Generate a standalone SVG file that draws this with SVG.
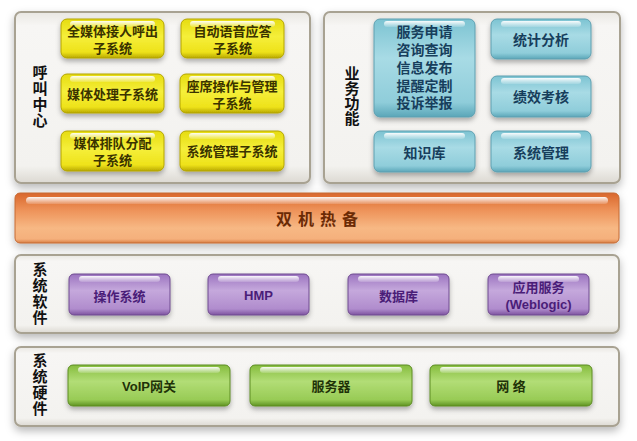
<svg xmlns="http://www.w3.org/2000/svg" width="637" height="441" viewBox="0 0 637 441">
<defs>
  <filter id="sh" x="-10%" y="-20%" width="120%" height="150%">
    <feDropShadow dx="0" dy="4" stdDeviation="4" flood-color="#000" flood-opacity="0.28"/>
  </filter>
  <filter id="bsh" x="-10%" y="-20%" width="120%" height="150%">
    <feDropShadow dx="0" dy="3" stdDeviation="2.5" flood-color="#000" flood-opacity="0.3"/>
  </filter>
  <linearGradient id="gPanel" x1="0" y1="0" x2="0" y2="1">
    <stop offset="0" stop-color="#e9e7e2"/>
    <stop offset="0.08" stop-color="#f7f6f4"/>
    <stop offset="0.9" stop-color="#f3f2ef"/>
    <stop offset="1" stop-color="#dcd9d2"/>
  </linearGradient>
  <linearGradient id="gY" x1="0" y1="0" x2="0" y2="1">
    <stop offset="0" stop-color="#e6dc10"/>
    <stop offset="0.45" stop-color="#f5ef3a"/>
    <stop offset="0.85" stop-color="#eee21a"/>
    <stop offset="1" stop-color="#b9a900"/>
  </linearGradient>
  <linearGradient id="gB" x1="0" y1="0" x2="0" y2="1">
    <stop offset="0" stop-color="#7cc3d2"/>
    <stop offset="0.4" stop-color="#a8dbe5"/>
    <stop offset="0.85" stop-color="#8fcdda"/>
    <stop offset="1" stop-color="#5aa6b8"/>
  </linearGradient>
  <linearGradient id="gO" x1="0" y1="0" x2="0" y2="1">
    <stop offset="0" stop-color="#d9672c"/>
    <stop offset="0.35" stop-color="#ee935a"/>
    <stop offset="0.7" stop-color="#f7b884"/>
    <stop offset="0.92" stop-color="#f5b07c"/>
    <stop offset="1" stop-color="#d97f45"/>
  </linearGradient>
  <linearGradient id="gP" x1="0" y1="0" x2="0" y2="1">
    <stop offset="0" stop-color="#9c74c0"/>
    <stop offset="0.4" stop-color="#c5a8dc"/>
    <stop offset="0.85" stop-color="#b08ccd"/>
    <stop offset="1" stop-color="#7d549f"/>
  </linearGradient>
  <linearGradient id="gG" x1="0" y1="0" x2="0" y2="1">
    <stop offset="0" stop-color="#86bd3e"/>
    <stop offset="0.4" stop-color="#b2dd76"/>
    <stop offset="0.85" stop-color="#98cb55"/>
    <stop offset="1" stop-color="#5f9322"/>
  </linearGradient>
  <linearGradient id="gHi" x1="0" y1="0" x2="0" y2="1">
    <stop offset="0" stop-color="#fff" stop-opacity="0.95"/>
    <stop offset="1" stop-color="#fff" stop-opacity="0.15"/>
  </linearGradient>
</defs>
<style>
  .panel { fill: url(#gPanel); stroke: #a8a292; stroke-width: 2; filter: url(#sh); }
  .y { fill: url(#gY); stroke: #b3a400; stroke-width: 1; filter: url(#bsh); }
  .b { fill: url(#gB); stroke: #5e9fb0; stroke-width: 1; filter: url(#bsh); }
  .o { fill: url(#gO); stroke: #c46a35; stroke-width: 1; filter: url(#sh); }
  .p { fill: url(#gP); stroke: #6f4a90; stroke-width: 1; filter: url(#bsh); }
  .g { fill: url(#gG); stroke: #5c8c22; stroke-width: 1; filter: url(#bsh); }
  .hi { fill: url(#gHi); }
  text { font-family: "Liberation Sans", "Noto Sans CJK SC", sans-serif; font-weight: bold; text-anchor: middle; dominant-baseline: central; }
  .lbl { font-size: 15px; fill: #111; writing-mode: vertical-rl; letter-spacing: 1px; }
  .ty { font-size: 13px; fill: #3a3300; }
  .tb { font-size: 14px; fill: #173e5c; }
  .tp { font-size: 13px; fill: #4a1d78; }
  .tg { font-size: 13px; fill: #1f3208; }
  .to { font-size: 16px; fill: #6b2a05; letter-spacing: 6px; }
</style>

<g id="panel-callcenter">
  <rect class="panel" x="15" y="12" width="295" height="171" rx="6"/>
  <text class="lbl" x="39" y="97">呼叫中心</text>
</g>
<g id="y1">
  <rect class="y" x="61" y="19" width="103" height="39" rx="6"/>
  <rect class="hi" x="70" y="21" width="85" height="6" rx="3"/>
  <text class="ty"><tspan x="112.5" y="31">全媒体接人呼出</tspan><tspan x="112.5" y="48">子系统</tspan></text>
</g>
<g id="y2">
  <rect class="y" x="181" y="19" width="103" height="39" rx="6"/>
  <rect class="hi" x="190" y="21" width="85" height="6" rx="3"/>
  <text class="ty"><tspan x="232.5" y="31">自动语音应答</tspan><tspan x="232.5" y="48">子系统</tspan></text>
</g>
<g id="y3">
  <rect class="y" x="61" y="74" width="103" height="39" rx="6"/>
  <rect class="hi" x="70" y="76" width="85" height="6" rx="3"/>
  <text class="ty" x="112.5" y="94">媒体处理子系统</text>
</g>
<g id="y4">
  <rect class="y" x="180" y="74" width="104" height="39" rx="6"/>
  <rect class="hi" x="189" y="76" width="86" height="6" rx="3"/>
  <text class="ty"><tspan x="232" y="86">座席操作与管理</tspan><tspan x="232" y="103">子系统</tspan></text>
</g>
<g id="y5">
  <rect class="y" x="61" y="131" width="103" height="40" rx="6"/>
  <rect class="hi" x="70" y="133" width="85" height="6" rx="3"/>
  <text class="ty"><tspan x="112.5" y="143">媒体排队分配</tspan><tspan x="112.5" y="160">子系统</tspan></text>
</g>
<g id="y6">
  <rect class="y" x="180" y="131" width="104" height="40" rx="6"/>
  <rect class="hi" x="189" y="133" width="86" height="6" rx="3"/>
  <text class="ty" x="232" y="151">系统管理子系统</text>
</g>

<g id="panel-business">
  <rect class="panel" x="324" y="12" width="296" height="171" rx="6"/>
  <text class="lbl" x="351" y="96" style="letter-spacing:0px">业务功能</text>
</g>
<g id="b1">
  <rect class="b" x="374" y="19" width="101" height="98" rx="6"/>
  <rect class="hi" x="384" y="21" width="81" height="6" rx="3"/>
  <text class="tb"><tspan x="424.5" y="32">服务申请</tspan><tspan x="424.5" y="50">咨询查询</tspan><tspan x="424.5" y="68">信息发布</tspan><tspan x="424.5" y="86">提醒定制</tspan><tspan x="424.5" y="103">投诉举报</tspan></text>
</g>
<g id="b2">
  <rect class="b" x="491" y="19" width="100" height="40" rx="6"/>
  <rect class="hi" x="501" y="21" width="80" height="6" rx="3"/>
  <text class="tb" x="541" y="40">统计分析</text>
</g>
<g id="b3">
  <rect class="b" x="491" y="76" width="100" height="41" rx="6"/>
  <rect class="hi" x="501" y="78" width="80" height="6" rx="3"/>
  <text class="tb" x="541" y="97">绩效考核</text>
</g>
<g id="b4">
  <rect class="b" x="374" y="131" width="101" height="41" rx="6"/>
  <rect class="hi" x="384" y="133" width="81" height="6" rx="3"/>
  <text class="tb" x="424.5" y="153">知识库</text>
</g>
<g id="b5">
  <rect class="b" x="491" y="131" width="100" height="41" rx="6"/>
  <rect class="hi" x="501" y="133" width="80" height="6" rx="3"/>
  <text class="tb" x="541" y="153">系统管理</text>
</g>

<g id="hotstandby">
  <rect class="o" x="15" y="193" width="604" height="50" rx="5"/>
  <rect class="hi" x="26" y="197" width="582" height="7" rx="3.5"/>
  <text class="to" x="320" y="219">双机热备</text>
</g>

<g id="panel-software">
  <rect class="panel" x="15" y="255" width="604" height="78" rx="6"/>
  <text class="lbl" x="39" y="294">系统软件</text>
</g>
<g id="p1">
  <rect class="p" x="69" y="274" width="101" height="41" rx="5"/>
  <rect class="hi" x="79" y="276" width="81" height="6" rx="3"/>
  <text class="tp" x="119.5" y="296">操作系统</text>
</g>
<g id="p2">
  <rect class="p" x="208" y="274" width="101" height="41" rx="5"/>
  <rect class="hi" x="218" y="276" width="81" height="6" rx="3"/>
  <text class="tp" x="258.5" y="295">HMP</text>
</g>
<g id="p3">
  <rect class="p" x="348" y="274" width="101" height="41" rx="5"/>
  <rect class="hi" x="358" y="276" width="81" height="6" rx="3"/>
  <text class="tp" x="398.5" y="296">数据库</text>
</g>
<g id="p4">
  <rect class="p" x="488" y="274" width="101" height="41" rx="5"/>
  <rect class="hi" x="498" y="276" width="81" height="6" rx="3"/>
  <text class="tp"><tspan x="538.5" y="287">应用服务</tspan><tspan x="538.5" y="304">(Weblogic)</tspan></text>
</g>

<g id="panel-hardware">
  <rect class="panel" x="15" y="347" width="604" height="79" rx="6"/>
  <text class="lbl" x="39" y="385">系统硬件</text>
</g>
<g id="g1">
  <rect class="g" x="68" y="365" width="162" height="41" rx="5"/>
  <rect class="hi" x="78" y="367" width="142" height="6" rx="3"/>
  <text class="tg" x="149" y="386">VoIP网关</text>
</g>
<g id="g2">
  <rect class="g" x="250" y="365" width="162" height="41" rx="5"/>
  <rect class="hi" x="260" y="367" width="142" height="6" rx="3"/>
  <text class="tg" x="331" y="386">服务器</text>
</g>
<g id="g3">
  <rect class="g" x="430" y="365" width="162" height="41" rx="5"/>
  <rect class="hi" x="440" y="367" width="142" height="6" rx="3"/>
  <text class="tg" x="511" y="386">网 络</text>
</g>

<g id="connectors"></g>
</svg>
